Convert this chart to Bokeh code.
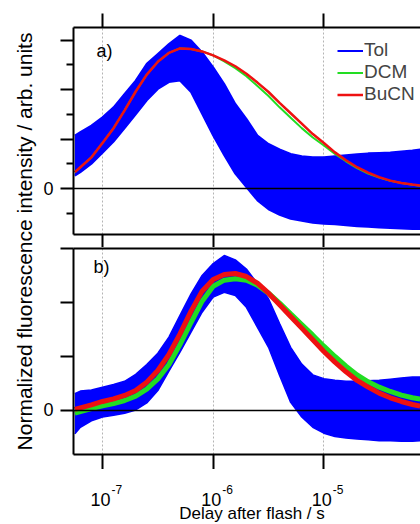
from bokeh.plotting import figure
from bokeh.models import (Range1d, LogAxis, FixedTicker, Span, Label, Legend, LegendItem)
from bokeh.core.properties import value
from bokeh.layouts import row, column
from bokeh.embed import file_html
from bokeh.resources import INLINE

# ---------------- data ----------------
log_t = [-7.25, -7.2, -7.1, -7.0, -6.9, -6.8, -6.7, -6.6, -6.5, -6.4, -6.3, -6.2, -6.1,
         -6.0, -5.9, -5.8, -5.7, -5.6, -5.5, -5.4, -5.3, -5.2, -5.1, -5.0, -4.9, -4.8,
         -4.7, -4.6, -4.5, -4.4, -4.3, -4.2, -4.13]

# panel a)
a_bucn = [0.33, 0.43, 0.63, 0.92, 1.22, 1.58, 1.96, 2.30, 2.56, 2.74, 2.83, 2.82, 2.77,
          2.69, 2.59, 2.47, 2.32, 2.14, 1.95, 1.73, 1.52, 1.31, 1.10, 0.92, 0.73, 0.57,
          0.43, 0.32, 0.23, 0.16, 0.11, 0.08, 0.06]
a_dcm = [0.33, 0.43, 0.63, 0.92, 1.22, 1.58, 1.96, 2.30, 2.56, 2.74, 2.83, 2.82, 2.77,
         2.69, 2.57, 2.43, 2.27, 2.07, 1.87, 1.64, 1.43, 1.22, 1.03, 0.87, 0.70, 0.55,
         0.41, 0.30, 0.22, 0.155, 0.11, 0.075, 0.055]
a_tol_hi = [1.07, 1.14, 1.27, 1.44, 1.64, 1.91, 2.18, 2.52, 2.72, 2.92, 3.09, 2.99, 2.75,
            2.45, 2.11, 1.71, 1.41, 1.07, 0.90, 0.79, 0.70, 0.65, 0.63, 0.63, 0.65, 0.67,
            0.69, 0.71, 0.72, 0.73, 0.75, 0.77, 0.79]
a_tol_lo = [0.26, 0.33, 0.50, 0.72, 0.95, 1.22, 1.50, 1.78, 2.01, 2.15, 2.18, 1.95, 1.51,
            1.07, 0.67, 0.30, 0.03, -0.24, -0.42, -0.53, -0.61, -0.65, -0.69, -0.71, -0.72,
            -0.74, -0.76, -0.77, -0.79, -0.80, -0.81, -0.82, -0.82]

# panel b)
b_bucn = [0.02, 0.05, 0.105, 0.167, 0.216, 0.278, 0.37, 0.525, 0.741, 1.037, 1.42, 1.84,
          2.21, 2.426, 2.519, 2.537, 2.481, 2.358, 2.173, 1.957, 1.741, 1.525, 1.309,
          1.093, 0.895, 0.716, 0.556, 0.432, 0.321, 0.235, 0.167, 0.111, 0.08]
b_dcm = [-0.05, -0.02, 0.037, 0.086, 0.13, 0.185, 0.265, 0.395, 0.586, 0.852, 1.222, 1.63,
         2.025, 2.302, 2.414, 2.438, 2.414, 2.321, 2.173, 1.988, 1.79, 1.593, 1.395, 1.191,
         1.0, 0.821, 0.66, 0.531, 0.432, 0.352, 0.284, 0.235, 0.21]
b_tol_hi = [0.31, 0.36, 0.38, 0.43, 0.48, 0.54, 0.67, 0.85, 1.06, 1.36, 1.76, 2.16, 2.50,
            2.72, 2.87, 2.79, 2.62, 2.35, 2.07, 1.61, 1.17, 0.86, 0.66, 0.59, 0.56, 0.54,
            0.54, 0.55, 0.56, 0.58, 0.60, 0.62, 0.62]
b_tol_lo = [-0.43, -0.31, -0.19, -0.12, -0.09, -0.05, 0.01, 0.14, 0.37, 0.73, 1.08, 1.45,
            1.82, 2.10, 2.19, 2.13, 1.91, 1.54, 1.17, 0.65, 0.15, -0.12, -0.31, -0.42,
            -0.48, -0.51, -0.53, -0.54, -0.56, -0.56, -0.57, -0.57, -0.56]

x_ticks = [1e-7, 1e-6, 1e-5]
x_tick_base = ["10", "10", "10"]
x_tick_exps = ["-7", "-6", "-5"]
series_names = ["Tol", "DCM", "BuCN"]
y_label = "Normalized fluorescence intensity / arb. units"
x_label = "Delay after flash / s"

# ---------------- style ----------------
FONT = "Liberation Sans"
BLUE, GREEN, RED = "#0000ff", "#22dd22", "#ee1111"
t = [10 ** v for v in log_t]
x_range = Range1d(10 ** -7.262, 10 ** -4.127)
PW = 382          # width of the plot column
LEFT = 35         # left border (frame starts at x = 73 on the page)


def base_panel(height, y0, y1, top, bottom):
    p = figure(width=PW, height=height, x_axis_type="log", x_range=x_range,
               y_range=Range1d(y0, y1), output_backend="svg", toolbar_location=None,
               min_border_left=LEFT, min_border_right=0, min_border_top=top,
               min_border_bottom=bottom)
    p.outline_line_color = None
    p.xgrid.ticker = FixedTicker(ticks=x_ticks, minor_ticks=[])
    p.xgrid.grid_line_dash = "2 2"
    p.xgrid.grid_line_color = "#b4b4b4"
    p.xgrid.grid_line_width = 1
    p.ygrid.visible = False
    return p


def style_x(ax, tick_out):
    ax.ticker = FixedTicker(ticks=x_ticks, minor_ticks=[])
    ax.axis_line_width = 2
    ax.major_tick_line_width = 2
    ax.major_tick_out = tick_out
    ax.major_tick_in = 0
    ax.minor_tick_out = 0
    ax.minor_tick_in = 0
    ax.major_label_text_font_size = "1px"
    ax.major_label_text_color = None
    ax.major_label_standoff = 0


def style_y(ax, ticks, minor):
    ax.ticker = FixedTicker(ticks=ticks, minor_ticks=minor)
    ax.axis_line_width = 2
    ax.major_tick_line_width = 2
    ax.minor_tick_line_width = 2
    ax.major_tick_out = 13
    ax.major_tick_in = 0
    ax.minor_tick_out = 7
    ax.minor_tick_in = 0
    ax.major_label_overrides = {tk: ("0" if tk == 0 else " ") for tk in ticks}
    ax.major_label_text_font = FONT
    ax.major_label_text_font_size = "18px"
    ax.major_label_text_color = "black"
    ax.major_label_standoff = 7


# ---------------- panel a ----------------
p1 = base_panel(247, -0.929, 3.253, 27, 13)
style_x(p1.xaxis[0], 13)
top1 = LogAxis()
style_x(top1, 14)
p1.add_layout(top1, "above")
style_y(p1.yaxis[0], [0, 1, 2, 3], [-0.5, 0.5, 1.5, 2.5])

p1.varea(x=t, y1=a_tol_lo, y2=a_tol_hi, fill_color=BLUE)
r_tol = p1.line(t, a_tol_hi, line_color=BLUE, line_width=2)
p1.line(t, a_tol_lo, line_color=BLUE, line_width=2)
p1.add_layout(Span(location=0, dimension="width", line_color="black", line_width=1.5))
r_dcm = p1.line(t, a_dcm, line_color=GREEN, line_width=2)
r_bucn = p1.line(t, a_bucn, line_color=RED, line_width=2.5)

legend = Legend(items=[LegendItem(label=series_names[0], renderers=[r_tol]),
                       LegendItem(label=series_names[1], renderers=[r_dcm]),
                       LegendItem(label=series_names[2], renderers=[r_bucn])],
                location=(264, 129), border_line_color=None, background_fill_alpha=0,
                padding=0, spacing=0, margin=0, glyph_width=26, glyph_height=21,
                label_height=21, label_standoff=1, label_text_font=FONT,
                label_text_font_size="19px", label_text_baseline="middle")
p1.add_layout(legend)
p1.add_layout(Label(x=x_range.start, y=3.253, x_offset=23, y_offset=-23, text="a)",
                    text_baseline="middle", text_font=FONT, text_font_size="18px",
                    text_color="black"))

# ---------------- panel b ----------------
p2 = base_panel(222, -0.815, 3.0, 1, 15)
style_x(p2.xaxis[0], 15)
top2 = LogAxis()
style_x(top2, 0)
p2.add_layout(top2, "above")
style_y(p2.yaxis[0], [0, 1, 2, 3], [])

p2.varea(x=t, y1=b_tol_lo, y2=b_tol_hi, fill_color=BLUE)
p2.line(t, b_tol_hi, line_color=BLUE, line_width=1.5)
p2.line(t, b_tol_lo, line_color=BLUE, line_width=1.5)
p2.add_layout(Span(location=0, dimension="width", line_color="black", line_width=1.5))
p2.line(t, b_dcm, line_color=GREEN, line_width=5)
p2.line(t, b_bucn, line_color=RED, line_width=5)
p2.add_layout(Label(x=x_range.start, y=3.0, x_offset=20, y_offset=-18, text="b)",
                    text_baseline="middle", text_font=FONT, text_font_size="18px",
                    text_color="black"))

# ---------------- strip with x tick labels and x axis title ----------------
SH = 55
strip = figure(width=PW, height=SH, x_axis_type="log", x_range=x_range,
               y_range=Range1d(0, SH), output_backend="svg", toolbar_location=None,
               min_border_left=LEFT, min_border_right=0, min_border_top=0,
               min_border_bottom=0, x_axis_location=None, y_axis_location=None)
strip.outline_line_color = None
strip.grid.visible = False
strip.text(x=x_ticks, y=[25] * len(x_ticks), text=x_tick_base, x_offset=8,
           text_align="right", text_baseline="alphabetic", text_font=value(FONT),
           text_font_size="18px", text_color="black")
strip.text(x=x_ticks, y=[35] * len(x_ticks), text=x_tick_exps, x_offset=9,
           text_align="left", text_baseline="alphabetic", text_font=value(FONT),
           text_font_size="12px", text_color="black")
strip.text(x=[(x_range.start * x_range.end) ** 0.5], y=[11], text=[x_label], x_offset=5,
           text_align="center", text_baseline="alphabetic", text_font=value(FONT),
           text_font_size="17px", text_color="black")

# ---------------- y label strip ----------------
TOTAL_H = 247 + 222 + SH
lab = figure(width=38, height=TOTAL_H, x_range=Range1d(0, 1), y_range=Range1d(0, 1),
             output_backend="svg", toolbar_location=None, min_border=0,
             x_axis_location=None, y_axis_location=None)
lab.outline_line_color = None
lab.grid.visible = False
lab.add_layout(Label(x=0.63, y=1 - 241 / TOTAL_H, text=y_label, angle=90,
                     angle_units="deg", text_align="center", text_baseline="middle",
                     text_font=FONT, text_font_size="21px", text_color="black"))

layout = row(lab, column(p1, p2, strip, spacing=0), spacing=0)
open("out.html", "w").write(file_html(layout, INLINE))
